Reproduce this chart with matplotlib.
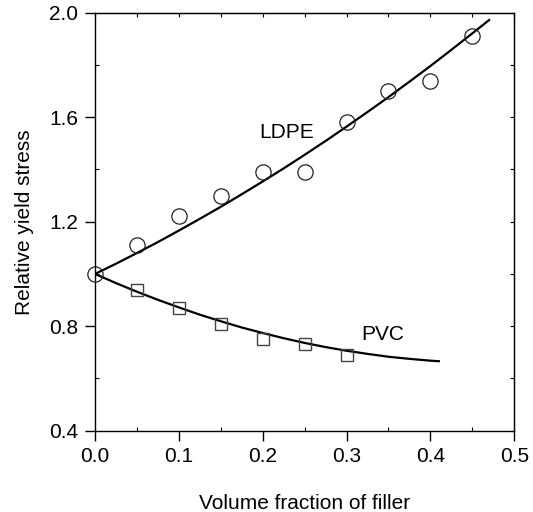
import matplotlib
matplotlib.use("Agg")
import matplotlib.pyplot as plt
from matplotlib.ticker import MultipleLocator

plt.rcParams['font.family'] = ['Liberation Sans', 'DejaVu Sans']

# measured points
ldpe_x = [0.0, 0.05, 0.10, 0.15, 0.20, 0.25, 0.30, 0.35, 0.40, 0.45]
ldpe_y = [1.00, 1.11, 1.22, 1.30, 1.39, 1.39, 1.58, 1.70, 1.74, 1.91]
pvc_x = [0.0, 0.05, 0.10, 0.15, 0.20, 0.25, 0.30]
pvc_y = [1.00, 0.94, 0.87, 0.81, 0.75, 0.73, 0.69]

# fitted curves
ldpe_fit_x = [0.0, 0.025, 0.05, 0.075, 0.10, 0.125, 0.15, 0.175, 0.20, 0.225,
              0.25, 0.275, 0.30, 0.325, 0.35, 0.375, 0.40, 0.425, 0.45, 0.47]
ldpe_fit_y = [1.000, 1.039, 1.080, 1.122, 1.166, 1.211, 1.257, 1.305, 1.354, 1.404,
              1.456, 1.509, 1.564, 1.620, 1.677, 1.736, 1.796, 1.858, 1.921, 1.972]
pvc_fit_x = [0.0, 0.025, 0.05, 0.075, 0.10, 0.125, 0.15, 0.175, 0.20, 0.225,
             0.25, 0.275, 0.30, 0.325, 0.35, 0.375, 0.40, 0.41]
pvc_fit_y = [1.000, 0.965, 0.932, 0.901, 0.872, 0.844, 0.819, 0.795, 0.774, 0.754,
             0.736, 0.720, 0.706, 0.694, 0.683, 0.675, 0.668, 0.666]

fig = plt.figure(figsize=(5.33, 5.12), dpi=100)
ax = fig.add_axes([0.1782, 0.1588, 0.7867, 0.8164])

ax.plot(ldpe_fit_x, ldpe_fit_y, color='black', lw=1.6, zorder=2)
ax.plot(pvc_fit_x, pvc_fit_y, color='black', lw=1.6, zorder=2)
ax.plot(ldpe_x, ldpe_y, 'o', ms=11, mfc='none', mec='#222222', mew=0.9,
        zorder=3, clip_on=False)
ax.plot(pvc_x[1:], pvc_y[1:], 's', ms=8.5, mfc='none', mec='#444444', mew=1.0,
        zorder=3, clip_on=False)

ax.text(0.229, 1.54, 'LDPE', fontsize=15, ha='center', va='center')
ax.text(0.343, 0.77, 'PVC', fontsize=15, ha='center', va='center')

ax.set_xlim(0, 0.5)
ax.set_ylim(0.4, 2.0)
ax.xaxis.set_major_locator(MultipleLocator(0.1))
ax.xaxis.set_minor_locator(MultipleLocator(0.05))
ax.yaxis.set_major_locator(MultipleLocator(0.4))
ax.yaxis.set_minor_locator(MultipleLocator(0.2))
ax.xaxis.set_major_formatter(lambda v, p: f"{v:.1f}")
ax.yaxis.set_major_formatter(lambda v, p: f"{v:.1f}")

ax.tick_params(which='major', direction='out', length=7, width=1, labelsize=15,
               top=False, right=False, pad=5)
ax.tick_params(which='minor', direction='in', length=3, width=0.8, top=False, right=False)

top = ax.secondary_xaxis('top')
top.xaxis.set_major_locator(MultipleLocator(0.05))
top.tick_params(direction='in', length=3, width=0.8, labeltop=False)
right = ax.secondary_yaxis('right')
right.yaxis.set_major_locator(MultipleLocator(0.2))
right.tick_params(direction='in', length=3, width=0.8, labelright=False)

for s in ax.spines.values():
    s.set_linewidth(1.0)

ax.set_xlabel('Volume fraction of filler', fontsize=15, labelpad=20)
ax.set_ylabel('Relative yield stress', fontsize=15, labelpad=11)

fig.savefig('out.png', dpi=100)
